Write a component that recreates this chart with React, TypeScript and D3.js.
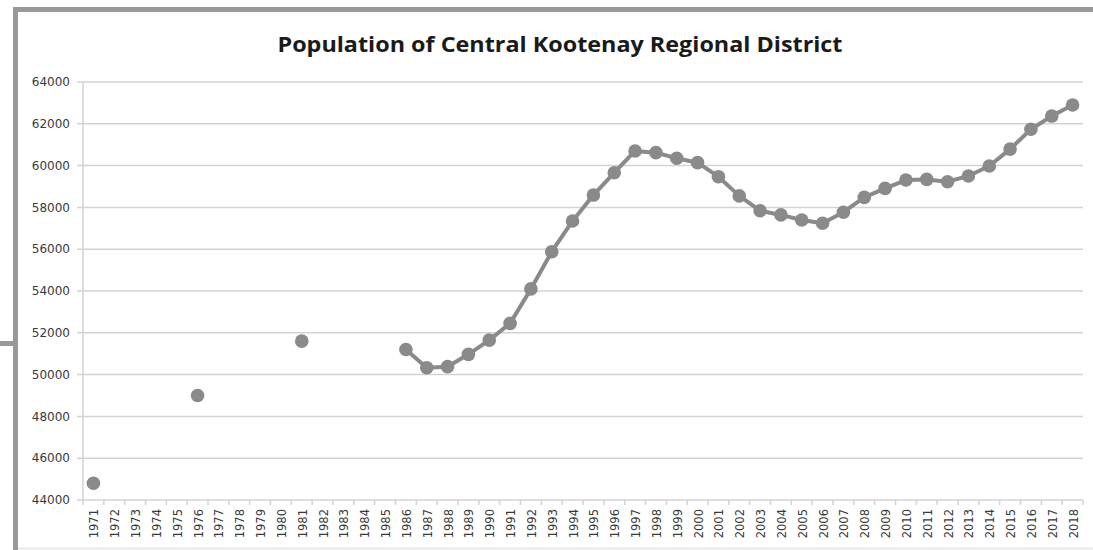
import { useEffect, useRef } from 'react'
import * as d3 from 'd3'

const W = 1093, H = 550
const TITLE = 'Population of Central Kootenay Regional District'
const YEARS = d3.range(1971, 2019).map(String)
// population per year, null where there is no estimate
const POP: (number | null)[] = [
  44800, null, null, null, null, 49000, null, null, null, null,
  51600, null, null, null, null, 51200, 50330, 50380, 50970, 51650,
  52450, 54100, 55880, 57350, 58590, 59660, 60700, 60620, 60350, 60140,
  59470, 58550, 57840, 57640, 57400, 57240, 57770, 58480, 58910, 59310,
  59340, 59230, 59500, 59980, 60790, 61740, 62370, 62900,
]
const Y_TICKS = d3.range(44000, 64001, 2000)

const M = { left: 83, right: 1083, top: 82, bottom: 500 }
const MARK = '#8a8a8a'
const GRID = '#d3d3d3'
const FONT = '"DejaVu Sans", sans-serif'

export default function App() {
  const svgRef = useRef<SVGSVGElement>(null)

  useEffect(() => {
    const svg = d3.select(svgRef.current)
    svg.selectAll('*').remove()

    // frame
    svg.append('rect').attr('width', W).attr('height', H).attr('fill', '#fff')
    svg.append('rect').attr('x', 13).attr('y', 7).attr('width', W - 13).attr('height', 5).attr('fill', '#999')
    svg.append('rect').attr('x', 13).attr('y', 7).attr('width', 5).attr('height', H - 7).attr('fill', '#999')
    svg.append('rect').attr('x', 0).attr('y', 341).attr('width', 14).attr('height', 5).attr('fill', '#999')
    svg.append('line').attr('x1', 18).attr('x2', W).attr('y1', 548.5).attr('y2', 548.5)
      .attr('stroke', '#e4e4e4').attr('stroke-width', 1.5)

    svg.append('text').attr('x', 560).attr('y', 52).attr('text-anchor', 'middle')
      .attr('font-family', '"Open Sans", sans-serif').attr('font-weight', 'bold').attr('font-size', 21)
      .attr('fill', '#1a1a1a').attr('textLength', 565).attr('lengthAdjust', 'spacingAndGlyphs')
      .text(TITLE)

    const x = d3.scaleBand<string>().domain(YEARS).range([M.left, M.right])
    const y = d3.scaleLinear().domain([44000, 64000]).range([M.bottom, M.top])
    const cx = (yr: string) => (x(yr) ?? 0) + x.bandwidth() / 2

    // gridlines + y labels
    const g = svg.append('g')
    Y_TICKS.forEach((t) => {
      g.append('line').attr('x1', M.left - 6).attr('x2', M.right).attr('y1', y(t)).attr('y2', y(t))
        .attr('stroke', GRID).attr('stroke-width', 1.5)
      g.append('text').attr('x', 70).attr('y', y(t)).attr('dy', '0.35em').attr('text-anchor', 'end')
        .attr('font-family', FONT).attr('font-size', 12).attr('fill', '#3a3a3a').text(t)
    })
    g.append('line').attr('x1', M.left).attr('x2', M.left).attr('y1', M.top).attr('y2', M.bottom)
      .attr('stroke', GRID).attr('stroke-width', 1.5)

    // x ticks + labels
    const bounds = YEARS.map((yr) => x(yr) ?? 0).concat([M.right])
    bounds.forEach((b) => {
      g.append('line').attr('x1', b).attr('x2', b).attr('y1', M.bottom).attr('y2', M.bottom + 5)
        .attr('stroke', GRID).attr('stroke-width', 1.5)
    })
    YEARS.forEach((yr) => {
      g.append('text').attr('transform', `translate(${cx(yr) + 1},509) rotate(-90)`)
        .attr('text-anchor', 'end').attr('dy', '0.35em')
        .attr('font-family', FONT).attr('font-size', 11.5).attr('fill', '#3a3a3a').text(yr)
    })

    // series
    const pts = YEARS.map((yr, i) => ({ yr, v: POP[i] }))
    const line = d3.line<{ yr: string; v: number | null }>()
      .defined((d) => d.v != null)
      .x((d) => cx(d.yr)).y((d) => y(d.v as number))
    svg.append('path').datum(pts).attr('d', line).attr('fill', 'none')
      .attr('stroke', MARK).attr('stroke-width', 4).attr('stroke-linejoin', 'round')
    pts.filter((d) => d.v != null).forEach((d) => {
      svg.append('circle').attr('cx', cx(d.yr)).attr('cy', y(d.v as number)).attr('r', 6.8).attr('fill', MARK)
    })
  }, [])

  return (
    <div style={{ position: 'absolute', left: 0, top: 0 }}>
      <svg ref={svgRef} width={W} height={H} style={{ display: 'block' }} />
    </div>
  )
}
